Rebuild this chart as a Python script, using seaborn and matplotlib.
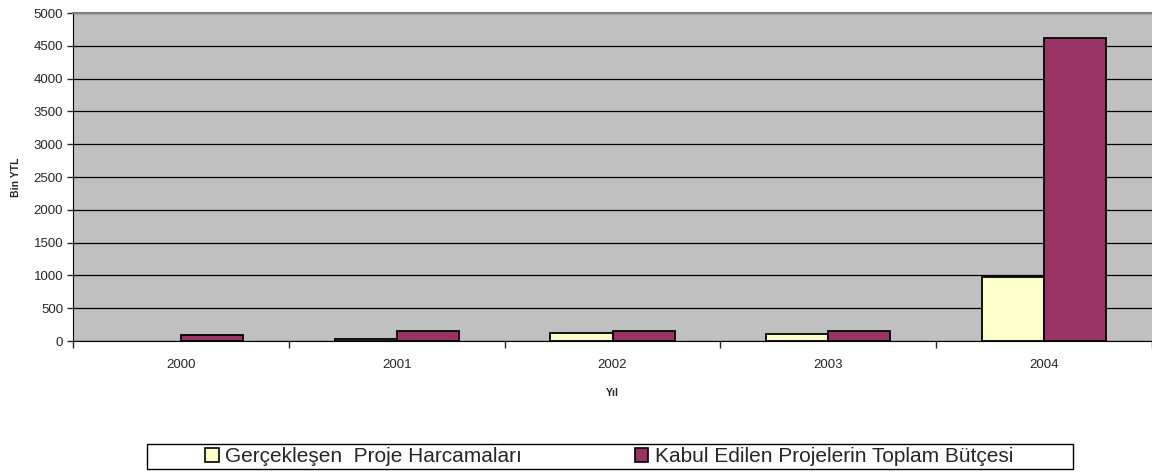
import numpy as np
import pandas as pd
import matplotlib.pyplot as plt
import seaborn as sns
from matplotlib.patches import Patch, Rectangle
from matplotlib.ticker import FixedLocator

# data (no bar drawn for 2000 in the first series)
years = ["2000", "2001", "2002", "2003", "2004"]
harcama = [np.nan, 35, 128, 102, 980]
butce = [97, 158, 158, 158, 4620]
series = ["Gerçekleşen  Proje Harcamaları", "Kabul Edilen Projelerin Toplam Bütçesi"]
colors = ["#FFFFCC", "#993366"]

df = pd.DataFrame({
    "Yil": years * 2,
    "Deger": harcama + butce,
    "Seri": [series[0]] * len(years) + [series[1]] * len(years),
})

sns.set_style("white")
plt.rcParams["font.family"] = ["Liberation Sans", "DejaVu Sans"]

fig = plt.figure(figsize=(11.52, 4.73), dpi=100)
ax = fig.add_axes([73 / 1152, 1 - 341 / 473, 1079 / 1152, 328 / 473])

sns.barplot(data=df, x="Yil", y="Deger", hue="Seri", hue_order=series,
            order=years, palette=colors, width=0.575, edgecolor="black",
            linewidth=1.3, saturation=1, legend=False, ax=ax, zorder=3)

ax.set_facecolor("#C0C0C0")
ax.set_xlim(-0.5, 4.5)
ax.set_ylim(0, 5000)
ax.set_yticks(range(0, 5001, 500))
ax.yaxis.grid(True, color="black", linewidth=0.9, zorder=0)
ax.set_axisbelow(True)

ax.spines["top"].set_color("#808080")
ax.spines["top"].set_linewidth(1.5)
ax.spines["right"].set_visible(False)
ax.spines["left"].set_color("black")
ax.spines["bottom"].set_color("black")

ax.tick_params(axis="y", left=True, length=4, width=1, direction="out",
               labelsize=9.5, pad=3)
ax.tick_params(axis="x", which="major", length=0, labelsize=9.5, pad=13)
ax.xaxis.set_minor_locator(FixedLocator([-0.5, 0.5, 1.5, 2.5, 3.5, 4.5]))
ax.tick_params(axis="x", which="minor", bottom=True, length=5, width=1,
               direction="out")

ax.set_ylabel("Bin YTL", fontsize=7.5, fontweight="bold", labelpad=9)
ax.set_xlabel("Yıl", fontsize=7.5, fontweight="bold", labelpad=12)

# legend with a plain square frame under the chart
handles = [Patch(facecolor=c, edgecolor="black", linewidth=1.2) for c in colors]
fig.legend(handles, series, loc="center left",
           bbox_to_anchor=(205 / 1152, 16.5 / 473), ncol=2, fontsize=15,
           frameon=False, handlelength=0.65, handleheight=0.65,
           handletextpad=0.33, columnspacing=5.4, borderpad=0,
           borderaxespad=0)
fig.patches.append(Rectangle((147 / 1152, 4 / 473), 926 / 1152, 25 / 473,
                             transform=fig.transFigure, fill=False,
                             edgecolor="black", linewidth=1))

plt.savefig("out.png", dpi=100)
